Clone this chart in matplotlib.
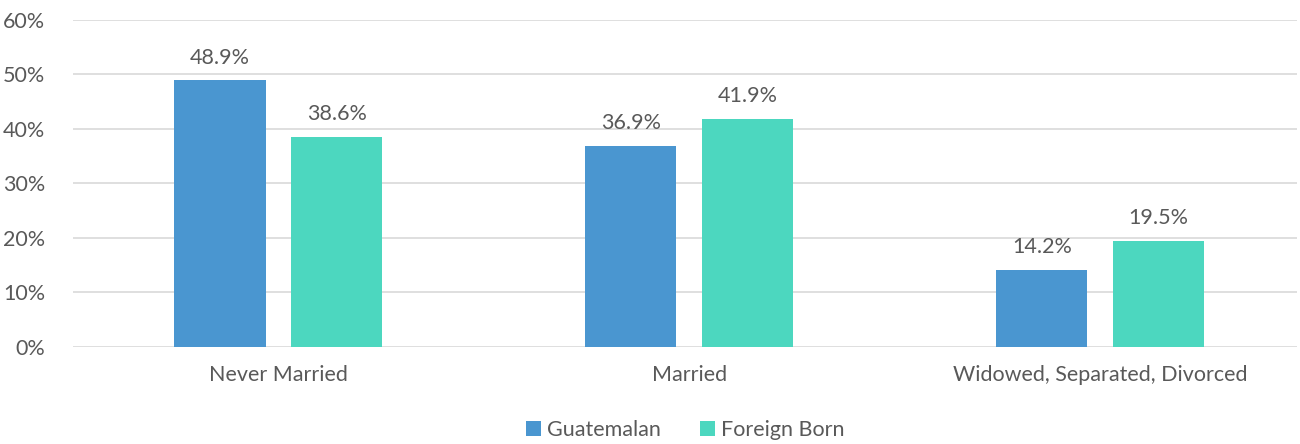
import matplotlib.pyplot as plt
import numpy as np

# Data
categories = ["Never Married", "Married", "Widowed, Separated, Divorced"]
guatemalan = [48.9, 36.9, 14.2]
foreign_born = [38.6, 41.9, 19.5]
series_names = ["Guatemalan", "Foreign Born"]

plt.rcParams['font.family'] = ['Lato', 'DejaVu Sans']
text_color = "#595959"
fs = 15.5

fig = plt.figure(figsize=(13, 4.44), dpi=100)
ax = fig.add_axes([0.056, 0.2185, 0.942, 0.7365])

x = np.arange(len(categories))
w = 0.222
off = 0.142
b1 = ax.bar(x - off, guatemalan, w, color="#4A96D0", label=series_names[0], zorder=3)
b2 = ax.bar(x + off, foreign_born, w, color="#4CD7BF", label=series_names[1], zorder=3)

for bars in (b1, b2):
    for rect in bars:
        h = rect.get_height()
        ax.annotate(f"{h:.1f}%", (rect.get_x() + rect.get_width() / 2, h),
                    xytext=(0, 9), textcoords="offset points",
                    ha="center", va="bottom", fontsize=fs, color=text_color)

ax.set_ylim(0, 60)
ax.set_xlim(-0.5, 2.48)
ax.set_yticks(range(0, 61, 10))
ax.set_yticklabels([f"{v}%" for v in range(0, 61, 10)])
ax.set_xticks(x)
ax.set_xticklabels(categories)
ax.tick_params(length=0, labelsize=fs, colors=text_color)
ax.tick_params(axis="x", pad=13)
ax.tick_params(axis="y", pad=20)
ax.grid(axis="y", color="#D9D9D9", linewidth=1.2, zorder=0)
for s in ax.spines.values():
    s.set_visible(False)

ax.legend(loc="lower center", bbox_to_anchor=(0.5, -0.345), ncol=2, frameon=False,
          fontsize=fs, labelcolor=text_color, handlelength=0.7, handleheight=0.7,
          handletextpad=0.3, columnspacing=1.8)

fig.savefig("out.png", dpi=100)
